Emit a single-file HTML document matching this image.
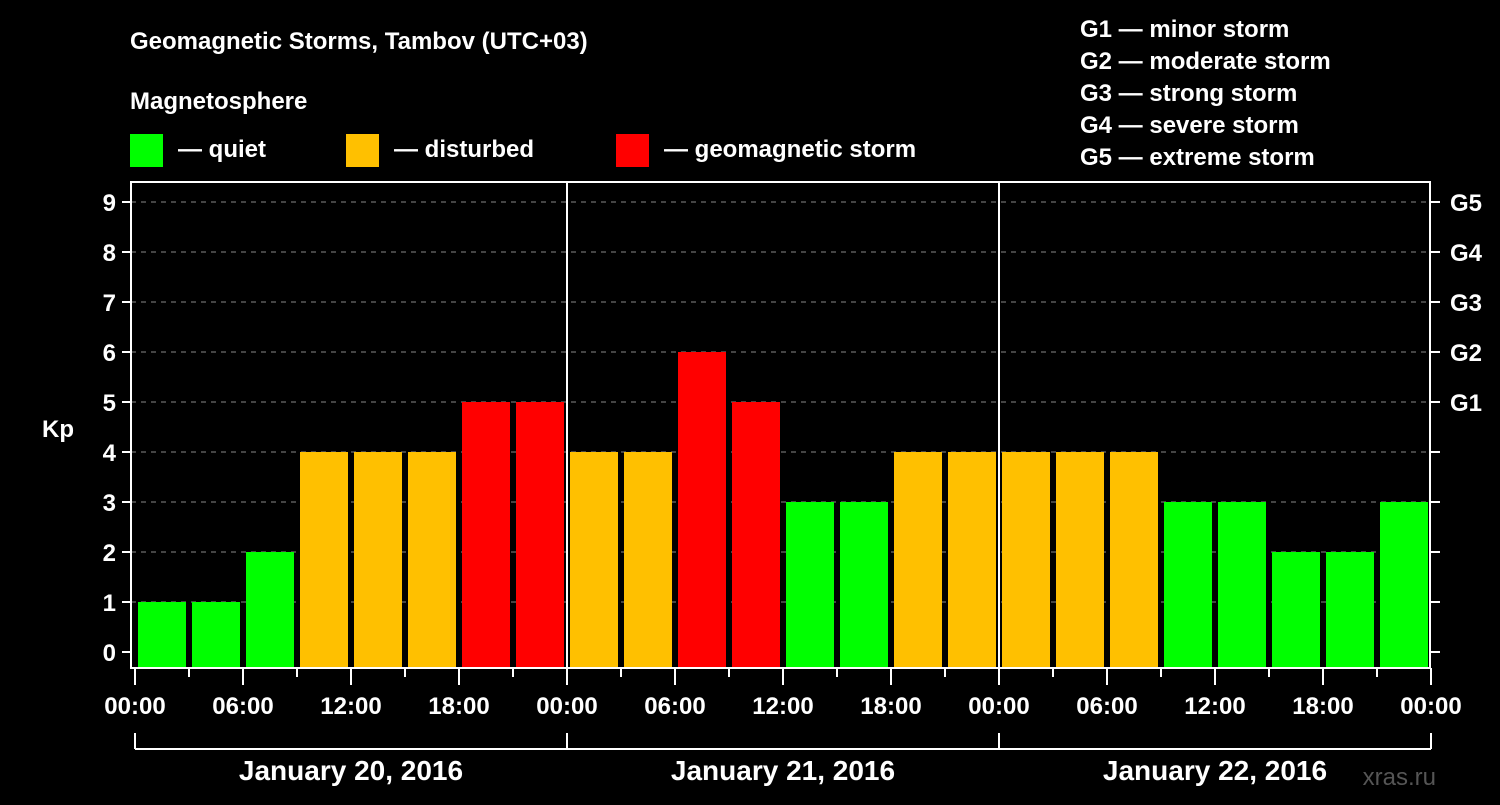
<!DOCTYPE html>
<html><head><meta charset="utf-8"><style>
body{margin:0;background:#000;width:1500px;height:800px;overflow:hidden}
svg text{font-family:"Liberation Sans",Arial,sans-serif;font-weight:bold;fill:#fff}
</style></head><body>
<svg id="c" width="1500" height="800" xmlns="http://www.w3.org/2000/svg">
<text x="130" y="49" font-size="24">Geomagnetic Storms, Tambov (UTC+03)</text>
<text x="130" y="109" font-size="24">Magnetosphere</text>
<g><rect x="130" y="134" width="33" height="33" fill="#00ff00"/><text x="178" y="157" font-size="24">— quiet</text></g>
<g><rect x="346" y="134" width="33" height="33" fill="#ffc000"/><text x="394" y="157" font-size="24">— disturbed</text></g>
<g><rect x="616" y="134" width="33" height="33" fill="#ff0000"/><text x="664" y="157" font-size="24">— geomagnetic storm</text></g>
<g font-size="24">
<text x="1080" y="37">G1 — minor storm</text><text x="1080" y="69">G2 — moderate storm</text><text x="1080" y="101">G3 — strong storm</text><text x="1080" y="133">G4 — severe storm</text><text x="1080" y="165">G5 — extreme storm</text>
</g>
<text x="42" y="437" font-size="24">Kp</text>
<text x="1436" y="785" font-size="24" text-anchor="end" fill="#555" style="fill:#555;font-weight:normal">xras.ru</text>
<g id="plot"></g>
</svg>
<script>
const kpValues=[1,1,2,4,4,4,5,5,4,4,6,5,3,3,4,4,4,4,4,3,3,2,2,3];
const yTicks=[0,1,2,3,4,5,6,7,8,9];
const gLabels=[[5,"G1"],[6,"G2"],[7,"G3"],[8,"G4"],[9,"G5"]];
const xTickLabels=["00:00","06:00","12:00","18:00","00:00","06:00","12:00","18:00","00:00","06:00","12:00","18:00","00:00"];
const dayLabels=["January 20, 2016","January 21, 2016","January 22, 2016"];
const NS="http://www.w3.org/2000/svg";
const g=document.getElementById('plot');
const L=131,R=1430,T=182,B=668,X0=135,SLOT=54;
const y=v=>652-v*50;
const x=i=>X0+i*SLOT;
function mk(t,a){const e=document.createElementNS(NS,t);for(const k in a)e.setAttribute(k,a[k]);g.appendChild(e);return e;}
yTicks.forEach(v=>{
  if(v>0){const l=mk('line',{x1:L,x2:R,y1:y(v),y2:y(v),stroke:'#888','stroke-dasharray':'5,5','stroke-width':1});
  
  }
  const t=mk('line',{x1:122,x2:L,y1:y(v),y2:y(v),stroke:'#fff','stroke-width':2});
  
  
  const r=mk('line',{x1:R,x2:1440,y1:y(v),y2:y(v),stroke:'#fff','stroke-width':2});
  
  
  const tx=mk('text',{x:116,y:y(v)+9,'font-size':24,'text-anchor':'end'});tx.textContent=v;
  
  
});
gLabels.forEach(([v,s])=>{
  const tx=mk('text',{x:1450,y:y(v)+9,'font-size':24});tx.textContent=s;
  
  
});
kpValues.forEach((v,i)=>{
  const c=v>=5?'#ff0000':v>=4?'#ffc000':'#00ff00';
  const b=mk('rect',{x:x(i)+3,y:y(v),width:48,height:B-y(v),fill:c});
  
  
});
[1,2].forEach(d=>{const l=mk('line',{x1:x(d*8),x2:x(d*8),y1:T,y2:B,stroke:'#fff','stroke-width':2});
  
  });
const fr=mk('rect',{x:L,y:T,width:R-L,height:B-T,fill:'none',stroke:'#fff','stroke-width':2});


for(let i=0;i<=24;i++){
  const maj=i%2==0;
  const t=mk('line',{x1:x(i),x2:x(i),y1:B,y2:maj?685:677,stroke:'#fff','stroke-width':2});
  
  
}
xTickLabels.forEach((s,i)=>{
  const tx=mk('text',{x:x(i*2),y:714,'font-size':24,'text-anchor':'middle'});tx.textContent=s;
  
  
});
const br=mk('line',{x1:x(0),x2:x(24),y1:749,y2:749,stroke:'#fff','stroke-width':2});


[0,1,2,3].forEach(d=>{const l=mk('line',{x1:x(d*8),x2:x(d*8),y1:733,y2:749,stroke:'#fff','stroke-width':2});
  
  });
dayLabels.forEach((s,d)=>{
  const tx=mk('text',{x:x(d*8+4),y:780,'font-size':28,'text-anchor':'middle'});tx.textContent=s;
  
  
});
</script>
</body></html>
